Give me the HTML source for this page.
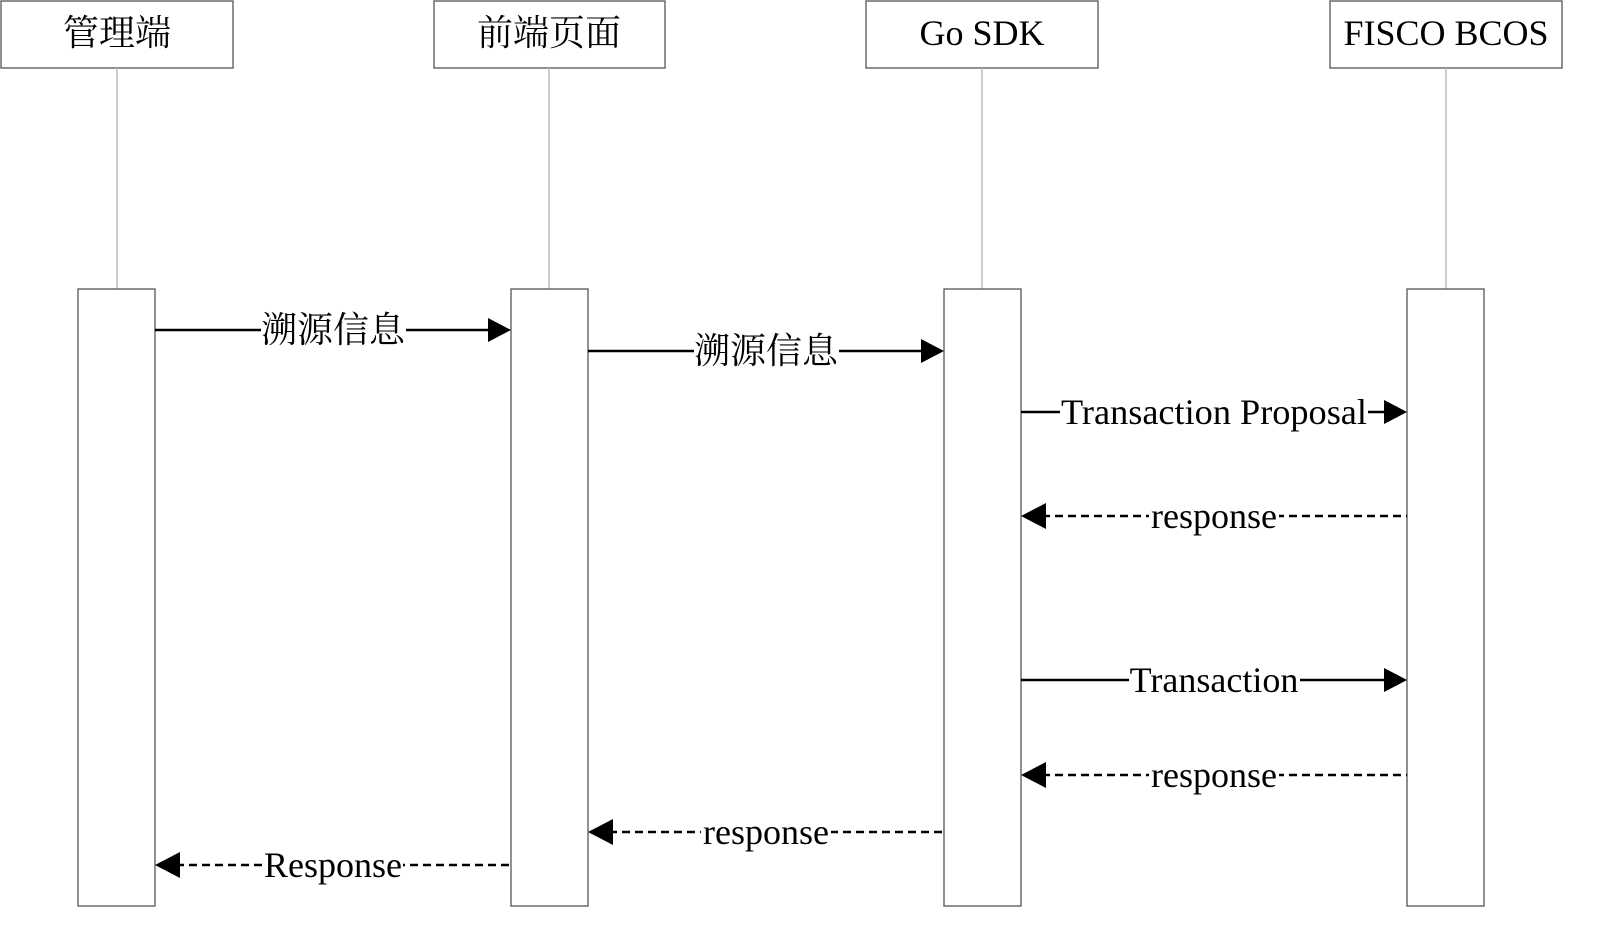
<!DOCTYPE html>
<html><head><meta charset="utf-8"><style>html,body{margin:0;padding:0;background:#fff}svg{display:block}</style></head>
<body>
<svg width="1600" height="926" viewBox="0 0 1600 926" xmlns="http://www.w3.org/2000/svg" font-family="'Liberation Serif','Noto Serif CJK SC',serif" font-size="36">
<g fill="#fff" stroke="#555" stroke-width="1.3">
<rect x="1" y="1" width="232" height="67"/>
<rect x="434" y="1" width="231" height="67"/>
<rect x="866" y="1" width="232" height="67"/>
<rect x="1330" y="1" width="232" height="67"/>
</g>
<g stroke="#bbb" stroke-width="1.5">
<line x1="117" y1="68" x2="117" y2="289"/>
<line x1="549" y1="68" x2="549" y2="289"/>
<line x1="982" y1="68" x2="982" y2="289"/>
<line x1="1446" y1="68" x2="1446" y2="289"/>
</g>
<g fill="#fff" stroke="#555" stroke-width="1.3">
<rect x="78" y="289" width="77" height="617"/>
<rect x="511" y="289" width="77" height="617"/>
<rect x="944" y="289" width="77" height="617"/>
<rect x="1407" y="289" width="77" height="617"/>
</g>
<g fill="#000" text-anchor="middle">
<text x="117" y="45">管理端</text>
<text x="549" y="45">前端页面</text>
<text x="982" y="45">Go SDK</text>
<text x="1446" y="45">FISCO BCOS</text>
</g>
<g stroke="#000" stroke-width="2.5" fill="none">
<line x1="155" y1="330" x2="490" y2="330"/>
<line x1="588" y1="351" x2="923" y2="351"/>
<line x1="1021" y1="412" x2="1386" y2="412"/>
<line x1="1021" y1="680" x2="1386" y2="680"/>
<g stroke-dasharray="8,5">
<line x1="1042" y1="516" x2="1407" y2="516"/>
<line x1="1042" y1="775" x2="1407" y2="775"/>
<line x1="609" y1="832" x2="944" y2="832"/>
<line x1="176" y1="865" x2="511" y2="865"/>
</g>
</g>
<g fill="#000">
<polygon points="511,330 488,318 488,342"/>
<polygon points="944,351 921,339 921,363"/>
<polygon points="1407,412 1384,400 1384,424"/>
<polygon points="1407,680 1384,668 1384,692"/>
<polygon points="1021,516 1046,503 1046,529"/>
<polygon points="1021,775 1046,762 1046,788"/>
<polygon points="588,832 613,819 613,845"/>
<polygon points="155,865 180,852 180,878"/>
</g>
<g fill="#000" text-anchor="middle">
<rect x="261" y="309" width="145" height="42" fill="#fff"/>
<text x="333" y="342">溯源信息</text>
<rect x="694" y="330" width="145" height="42" fill="#fff"/>
<text x="766" y="363">溯源信息</text>
<rect x="1060" y="391" width="308" height="42" fill="#fff"/>
<text x="1214" y="424" textLength="306" lengthAdjust="spacingAndGlyphs">Transaction Proposal</text>
<rect x="1149" y="495" width="130" height="42" fill="#fff"/>
<text x="1214" y="528">response</text>
<rect x="1129" y="659" width="171" height="42" fill="#fff"/>
<text x="1214" y="692">Transaction</text>
<rect x="1149" y="754" width="130" height="42" fill="#fff"/>
<text x="1214" y="787">response</text>
<rect x="701" y="811" width="130" height="42" fill="#fff"/>
<text x="766" y="844">response</text>
<rect x="263" y="844" width="140" height="42" fill="#fff"/>
<text x="333" y="877">Response</text>
</g>
</svg>
</body></html>
